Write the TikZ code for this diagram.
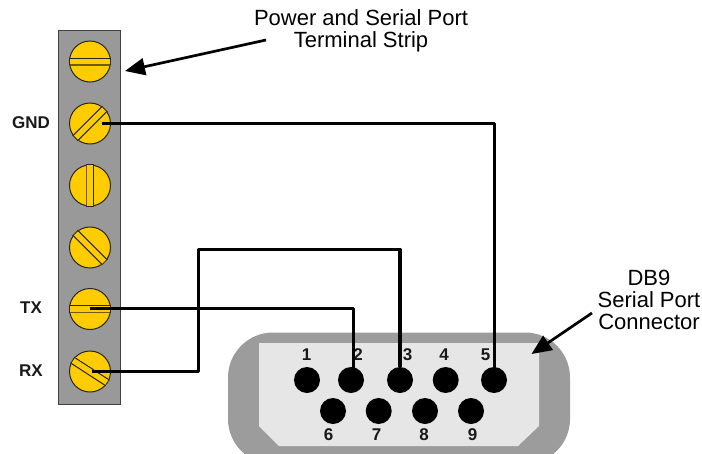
\documentclass[tikz,border=0pt]{standalone}
\usepackage{fontspec}
\setmainfont{Liberation Sans}
\usetikzlibrary{arrows.meta,calc}
\definecolor{stripgray}{HTML}{999999}
\definecolor{shellgray}{HTML}{9C9C9C}
\definecolor{facegray}{HTML}{E6E6E6}
\definecolor{screwyellow}{HTML}{FFCC00}
\definecolor{slotbrown}{HTML}{6E5A10}
\tikzset{
  strip/.style={draw=black!75,line width=1pt,fill=stripgray},
  screw/.style={circle,draw=black!85,line width=1pt,fill=screwyellow,minimum size=41pt,inner sep=0pt},
  pin/.style={circle,fill=black,minimum size=26pt,inner sep=0pt},
  wire/.style={line width=3.2pt,line join=round},
  callout/.style={line width=2.7pt,-{Triangle[length=20pt,width=17pt]}},
  caption/.style={font=\fontsize{22}{21.7}\selectfont,align=center,inner sep=0pt},
  tag/.style={font=\fontsize{17}{19}\selectfont\bfseries,inner sep=0pt,text=black!90},
  slotupper/.style={line width=1pt,draw=black!85},
}
\newcommand{\screwslot}[4]{%
  \begin{scope}[shift={(#1)},rotate=#2]
    \clip (-21,-3.9) rectangle (21,3.9);
    \fill[screwyellow] (-21,-3.9) rectangle (21,3.9);
    \draw[slotupper] (-21,-3.4) -- (21,-3.4);
    \draw[draw=#3,line width=#4] (-21,3.4) -- (21,3.4);
    \draw[draw=black!85,line width=0.9pt] (-20.6,-3.9) -- (-20.6,3.9) (20.6,-3.9) -- (20.6,3.9);
  \end{scope}}
\begin{document}
\begin{tikzpicture}[x=1pt,y=-1pt]
\useasboundingbox (0,0) rectangle (702,453);
% terminal strip
\path[strip] (58.5,30) rectangle (120.5,404);
\node[screw] (s1) at (90,61.5) {};
\node[screw] (s2) at (90,123.5) {};
\node[screw] (s3) at (90,185.5) {};
\node[screw] (s4) at (90,247.5) {};
\node[screw] (s5) at (90,309) {};
\node[screw] (s6) at (90,371.5) {};
\screwslot{s1}{0}{slotbrown}{1.4pt}
\screwslot{s2}{45}{black!85}{1pt}
\screwslot{s3}{-90}{slotbrown}{1.4pt}
\screwslot{s4}{-45}{black!85}{1pt}
\screwslot{s5}{0}{slotbrown}{1.2pt}
\screwslot{s6}{-33}{black!85}{1pt}
% connector shell
\begin{scope}
\clip (0,0) rectangle (702,453);
\fill[shellgray,rounded corners=45pt] (228,332.5) rectangle (570,464);
\end{scope}
\fill[facegray] (259,343) -- (539,343) -- (539,426) -- (518,446) -- (279,446) -- (259,426) -- cycle;
% pins
\node[pin] (p1) at (307,380) {};
\node[pin] (p2) at (351,380) {};
\node[pin] (p3) at (400,380) {};
\node[pin] (p4) at (445.7,380) {};
\node[pin] (p5) at (494,380) {};
\node[pin] (p6) at (333,411) {};
\node[pin] (p7) at (378.7,411) {};
\node[pin] (p8) at (425,411) {};
\node[pin] (p9) at (471,411) {};
% pin numbers
\node[tag] (n1) at (306.7,355) {1};
\node[tag] (n2) at (358,355) {2};
\node[tag] (n3) at (407.7,355) {3};
\node[tag] (n4) at (444,355) {4};
\node[tag] (n5) at (485.7,355) {5};
\node[tag] (n6) at (328.7,435) {6};
\node[tag] (n7) at (376.7,435) {7};
\node[tag] (n8) at (424,435) {8};
\node[tag] (n9) at (472.7,435) {9};
% wires
\coordinate (gndtip) at (101.5,123.5);
\coordinate (txtip) at (89.5,308.5);
\coordinate (rxtip) at (91.5,371.5);
\coordinate (p2top) at (353.5,372);
\coordinate (rxbend) at (198.5,249.5);
\draw[wire] (gndtip) -| ($(p5)+(0.5,0)$);
\draw[wire] (txtip) -| (p2top);
\draw[wire] (rxtip) -| (rxbend) -| (p3);
% terminal labels
\node[tag] (gnd) at (31,123) {GND};
\node[tag] (tx) at (31,308) {TX};
\node[tag] (rx) at (31,370.5) {RX};
% captions
\node[caption] (striplabel) at (361,30.5) {Power and Serial Port\\Terminal Strip};
\node[caption] (dblabel) at (649,300) {DB9\\Serial Port\\Connector};
\coordinate (striptail) at (266,40);
\coordinate (striptip) at (125,71);
\coordinate (dbtail) at (592,313);
\coordinate (dbtip) at (531.5,354);
\draw[callout] (striptail) -- (striptip);
\draw[callout] (dbtail) -- (dbtip);
\end{tikzpicture}
\end{document}
